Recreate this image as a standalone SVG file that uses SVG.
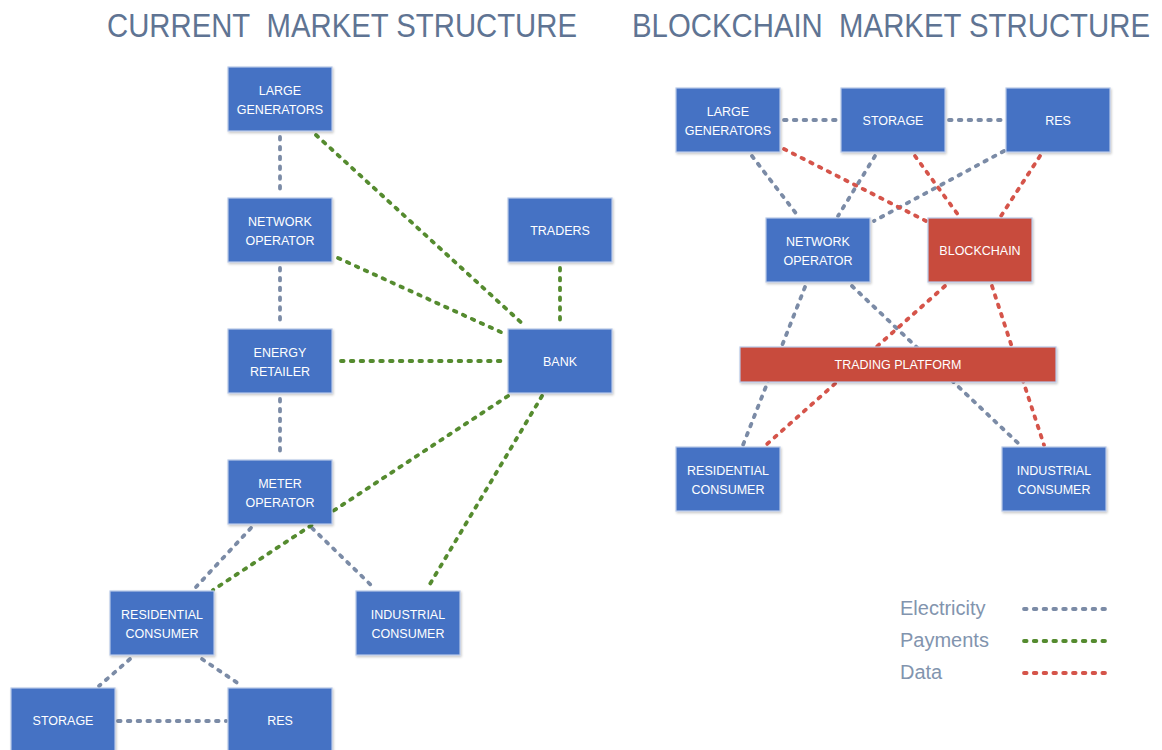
<svg xmlns="http://www.w3.org/2000/svg" width="1162" height="750" viewBox="0 0 1162 750">
<style>
.title{font-family:"Liberation Sans",Arial,sans-serif;font-size:29px;fill:#5f7493}
.box rect{fill:#4472c4;stroke:#b7c8e8;stroke-width:1.2;filter:url(#sh)}
.box.red rect{fill:#c84b3e}
.box text{font-family:"Liberation Sans",Arial,sans-serif;font-size:12.5px;fill:#ffffff;text-anchor:middle}
.c{fill:none;stroke-width:3.8;stroke-linecap:round;stroke-dasharray:2.6 7.2}
.e{stroke:#7b8ba6}
.p{stroke:#558b2f}
.d{stroke:#d5544a}
.leg{font-family:"Liberation Sans",Arial,sans-serif;font-size:20px;fill:#8294ae}
</style>
<defs>
<filter id="sh" x="-10%" y="-10%" width="125%" height="130%">
<feDropShadow dx="1" dy="1.5" stdDeviation="1" flood-color="#000" flood-opacity="0.22"/>
</filter>
</defs>
<rect width="1162" height="750" fill="#ffffff"/>
<g id="titles">
<text class="title" transform="translate(107,37) scale(1,1.13)" x="0" y="0" textLength="470" lengthAdjust="spacingAndGlyphs">CURRENT&#160; MARKET STRUCTURE</text>
<text class="title" transform="translate(632,37) scale(1,1.13)" x="0" y="0" textLength="518" lengthAdjust="spacingAndGlyphs">BLOCKCHAIN&#160; MARKET STRUCTURE</text>
</g>

<g id="connectors">
<line class="c e" x1="280" y1="137" x2="280" y2="193"/>
<line class="c e" x1="280" y1="268" x2="280" y2="324"/>
<line class="c e" x1="280" y1="399" x2="280" y2="455"/>
<line class="c e" x1="251" y1="528" x2="196" y2="587"/>
<line class="c e" x1="312" y1="528" x2="373" y2="587"/>
<line class="c e" x1="130" y1="659" x2="99" y2="686"/>
<line class="c e" x1="202" y1="659" x2="242" y2="686"/>
<line class="c e" x1="118" y1="721" x2="226" y2="721"/>
<line class="c p" x1="316" y1="135" x2="525" y2="326"/>
<line class="c p" x1="338" y1="258" x2="505" y2="334"/>
<line class="c p" x1="341" y1="361" x2="505" y2="361"/>
<line class="c p" x1="560" y1="268" x2="560" y2="324"/>
<line class="c p" x1="508" y1="396" x2="213" y2="590"/>
<line class="c p" x1="542" y1="396" x2="427" y2="589"/>

<line class="c e" x1="784" y1="120" x2="838" y2="120"/>
<line class="c e" x1="949" y1="120" x2="1003" y2="120"/>
<line class="c e" x1="752" y1="156" x2="798" y2="216"/>
<line class="c e" x1="875" y1="156" x2="838" y2="216"/>
<line class="c e" x1="1004" y1="151" x2="874" y2="221"/>
<line class="c e" x1="805" y1="287" x2="743" y2="445"/>
<line class="c e" x1="852" y1="286" x2="1020" y2="445"/>
<line class="c d" x1="784" y1="149" x2="926" y2="221"/>
<line class="c d" x1="915" y1="156" x2="959" y2="216"/>
<line class="c d" x1="1040" y1="156" x2="1001" y2="216"/>
<line class="c d" x1="945" y1="286" x2="766" y2="445"/>
<line class="c d" x1="992" y1="286" x2="1044" y2="445"/>

<line class="c e" x1="1024" y1="609" x2="1105" y2="609"/>
<line class="c p" x1="1024" y1="641" x2="1105" y2="641"/>
<line class="c d" x1="1024" y1="673" x2="1105" y2="673"/>
</g>

<g id="cur-large-generators" class="box"><rect x="228" y="67" width="104" height="64"/><text x="280" y="95">LARGE</text><text x="280" y="114">GENERATORS</text></g>
<g id="cur-network-operator" class="box"><rect x="228" y="198" width="104" height="64"/><text x="280" y="226">NETWORK</text><text x="280" y="245">OPERATOR</text></g>
<g id="cur-energy-retailer" class="box"><rect x="228" y="329" width="104" height="64"/><text x="280" y="357">ENERGY</text><text x="280" y="376">RETAILER</text></g>
<g id="cur-meter-operator" class="box"><rect x="228" y="460" width="104" height="64"/><text x="280" y="488">METER</text><text x="280" y="507">OPERATOR</text></g>
<g id="cur-traders" class="box"><rect x="508" y="198" width="104" height="64"/><text x="560" y="235">TRADERS</text></g>
<g id="cur-bank" class="box"><rect x="508" y="329" width="104" height="64"/><text x="560" y="366">BANK</text></g>
<g id="cur-residential-consumer" class="box"><rect x="110" y="591" width="104" height="64"/><text x="162" y="619">RESIDENTIAL</text><text x="162" y="638">CONSUMER</text></g>
<g id="cur-industrial-consumer" class="box"><rect x="356" y="591" width="104" height="64"/><text x="408" y="619">INDUSTRIAL</text><text x="408" y="638">CONSUMER</text></g>
<g id="cur-storage" class="box"><rect x="11" y="688" width="104" height="64"/><text x="63" y="725">STORAGE</text></g>
<g id="cur-res" class="box"><rect x="228" y="688" width="104" height="64"/><text x="280" y="725">RES</text></g>

<g id="bc-large-generators" class="box"><rect x="676" y="88" width="104" height="64"/><text x="728" y="116">LARGE</text><text x="728" y="135">GENERATORS</text></g>
<g id="bc-storage" class="box"><rect x="841" y="88" width="104" height="64"/><text x="893" y="125">STORAGE</text></g>
<g id="bc-res" class="box"><rect x="1006" y="88" width="104" height="64"/><text x="1058" y="125">RES</text></g>
<g id="bc-network-operator" class="box"><rect x="766" y="218" width="104" height="64"/><text x="818" y="246">NETWORK</text><text x="818" y="265">OPERATOR</text></g>
<g id="bc-blockchain" class="box red"><rect x="928" y="218" width="104" height="64"/><text x="980" y="255">BLOCKCHAIN</text></g>
<g id="bc-trading-platform" class="box red"><rect x="740" y="347" width="316" height="35"/><text x="898" y="369">TRADING PLATFORM</text></g>
<g id="bc-residential-consumer" class="box"><rect x="676" y="447" width="104" height="64"/><text x="728" y="475">RESIDENTIAL</text><text x="728" y="494">CONSUMER</text></g>
<g id="bc-industrial-consumer" class="box"><rect x="1002" y="447" width="104" height="64"/><text x="1054" y="475">INDUSTRIAL</text><text x="1054" y="494">CONSUMER</text></g>

<g id="legend">
<text class="leg" x="900" y="615">Electricity</text>
<text class="leg" x="900" y="647">Payments</text>
<text class="leg" x="900" y="679">Data</text>
</g>
</svg>
